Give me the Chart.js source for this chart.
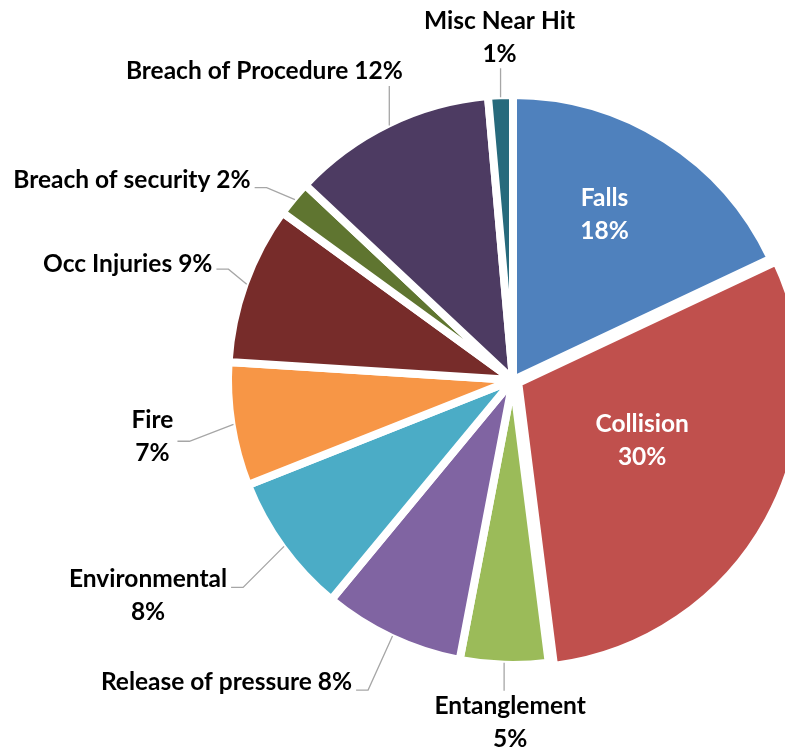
<!DOCTYPE html>
<html>
<head>
<meta charset="utf-8">
<script src="https://cdn.jsdelivr.net/npm/chart.js@4.4.0/dist/chart.umd.min.js"></script>
<style>
  html, body { margin: 0; padding: 0; background: #fff; overflow: hidden; }
  #wrap { width: 785px; height: 751px; position: relative; }
</style>
</head>
<body>
<div id="wrap"><canvas id="pie"></canvas></div>
<script>
// data
const categories = ['Falls', 'Collision', 'Entanglement', 'Release of pressure', 'Environmental',
  'Fire', 'Occ Injuries', 'Breach of security', 'Breach of Procedure', 'Misc Near Hit'];
const incidents = [18, 30, 5, 8, 8, 7, 9, 2, 11.6, 1.4];
const sliceColours = ['#4F81BD', '#C0504D', '#9BBB59', '#8064A2', '#4BACC6',
  '#F79646', '#772C2A', '#5F7530', '#4D3B62', '#276A7C'];
const explode = [0, 24, 0, 0, 0, 0, 0, 0, 0, 0];

// where each label goes, relative to its slice
// in = inside the slice, v = straight leader, h = leader with elbow on the text's right
const labelLayout = [
  { mode: 'in', k: 0.665, dx: -10, dy: -5, split: true },
  { mode: 'in', k: 0.5, dx: -1, dy: -11, split: true },
  { mode: 'v', dx: 6, dy: 60, split: true },
  { mode: 'h', dx: -166, dy: 46, ly: 8 },
  { mode: 'h', dx: -136, dy: 49, ly: -8, split: true },
  { mode: 'h', dx: -81, dy: 12, ly: 5, split: true },
  { mode: 'h', dx: -119, dy: -20, ly: 5 },
  { mode: 'h', dx: -163, dy: -20, ly: 8 },
  { mode: 'v', dx: -125, dy: -54 },
  { mode: 'v', dx: -1, dy: -60, split: true }
];

const FONT = 'bold 24.5px Lato';
const LINE_H = 33;

const sliceLabels = {
  id: 'sliceLabels',
  afterDatasetsDraw(chart) {
    const ctx = chart.ctx;
    const arcs = chart.getDatasetMeta(0).data;
    const total = incidents.reduce((a, b) => a + b, 0);
    ctx.save();
    ctx.font = FONT;
    ctx.textAlign = 'center';
    ctx.textBaseline = 'middle';
    arcs.forEach((arc, i) => {
      const p = arc.getProps(['x', 'y', 'startAngle', 'endAngle', 'outerRadius'], true);
      const mid = (p.startAngle + p.endAngle) / 2;
      const shift = explode[i] / 4;
      const cx = p.x + Math.cos(mid) * shift;
      const cy = p.y + Math.sin(mid) * shift;
      const pct = Math.round(incidents[i] / total * 100) + '%';
      const lay = labelLayout[i];
      const lines = lay.split ? [categories[i], pct] : [categories[i] + ' ' + pct];

      let bx, by;
      if (lay.mode === 'in') {
        bx = cx + Math.cos(mid) * p.outerRadius * lay.k + lay.dx;
        by = cy + Math.sin(mid) * p.outerRadius * lay.k + lay.dy;
        ctx.fillStyle = '#ffffff';
      } else {
        const ar = p.outerRadius - 2;
        const ax = cx + Math.cos(mid) * ar;
        const ay = cy + Math.sin(mid) * ar;
        bx = ax + lay.dx;
        by = ay + lay.dy;
        const w = Math.max(...lines.map(t => ctx.measureText(t).width));
        const h = lines.length * LINE_H;
        ctx.strokeStyle = '#A6A6A6';
        ctx.lineWidth = 1.3;
        ctx.beginPath();
        if (lay.mode === 'v') {
          ctx.moveTo(ax, ay);
          ctx.lineTo(ax, lay.dy < 0 ? by + h / 2 - 2 : by - h / 2 + 1);
        } else {
          const right = bx + w / 2;
          ctx.moveTo(ax, ay);
          ctx.lineTo(right + 16, by + lay.ly);
          ctx.lineTo(right + 4, by + lay.ly);
        }
        ctx.stroke();
        ctx.fillStyle = '#000000';
      }
      lines.forEach((t, j) => {
        ctx.fillText(t, bx, by + (j - (lines.length - 1) / 2) * LINE_H);
      });
    });
    ctx.restore();
  }
};

new Chart(document.getElementById('pie'), {
  type: 'pie',
  data: {
    labels: categories,
    datasets: [{
      data: incidents,
      backgroundColor: sliceColours,
      borderColor: '#ffffff',
      borderWidth: 8,
      offset: explode,
      clip: false
    }]
  },
  options: {
    responsive: true,
    maintainAspectRatio: false,
    animation: false,
    events: [],
    radius: 285,
    layout: { padding: { left: 241, right: 0, top: 9, bottom: 0 } },
    plugins: {
      legend: { display: false },
      tooltip: { enabled: false }
    }
  },
  plugins: [sliceLabels]
});
</script>
</body>
</html>
